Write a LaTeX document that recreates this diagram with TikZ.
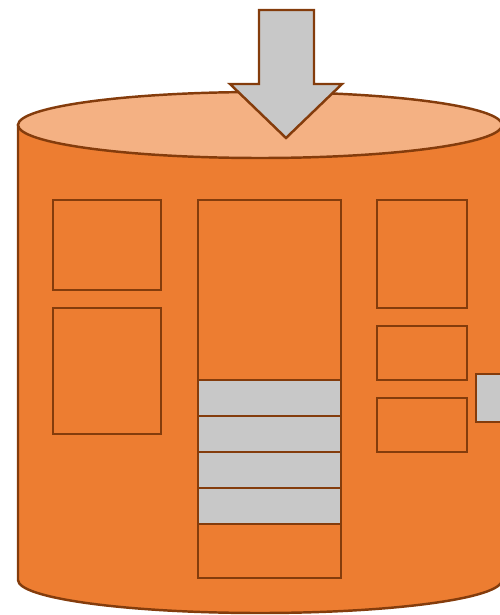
\documentclass[tikz,border=0pt]{standalone}
\usepackage{tikz}
\usetikzlibrary{positioning}
\definecolor{cylorange}{RGB}{237, 125, 49}
\definecolor{cyltop}{RGB}{244, 177, 131}
\definecolor{cylbrown}{RGB}{132, 60, 12}
\definecolor{slotgray}{RGB}{200, 200, 200}

\begin{document}
\begin{tikzpicture}[x=0.02cm,y=-0.02cm,line width=1.4pt,
  box/.style={draw=cylbrown,fill=cylorange,line width=1.4pt},
  slot/.style={draw=cylbrown,fill=slotgray,line width=1.4pt}]
\useasboundingbox (0,0) rectangle (500,615);
\clip (0,0) rectangle (500,615);
% cylinder body
\draw[cylbrown,fill=cylorange] (18,125) -- (18,580) arc[start angle=180,end angle=360,x radius=242,y radius=-33]
  -- (502,125) -- cycle;
\draw[cylbrown,fill=cyltop] (260,125) ellipse[x radius=242,y radius=33];
% left column
\draw[box] (53,200) rectangle (161,290);
\draw[box] (53,308) rectangle (161,434);
% middle column
\draw[box] (198,200) rectangle (341,578);
\foreach \y in {380,416,452,488}
  \draw[slot] (198,\y) rectangle (341,\y+36);
% right column
\draw[box] (377,200) rectangle (467,308);
\draw[box] (377,326) rectangle (467,380);
\draw[box] (377,398) rectangle (467,452);
\draw[slot] (476,374) rectangle (520,422);
% arrow in
\draw[cylbrown,fill=slotgray,line join=miter] (259,10) -- (314,10) -- (314,84) -- (342,84)
  -- (286,138) -- (230,84) -- (259,84) -- cycle;
\end{tikzpicture}
\end{document}
